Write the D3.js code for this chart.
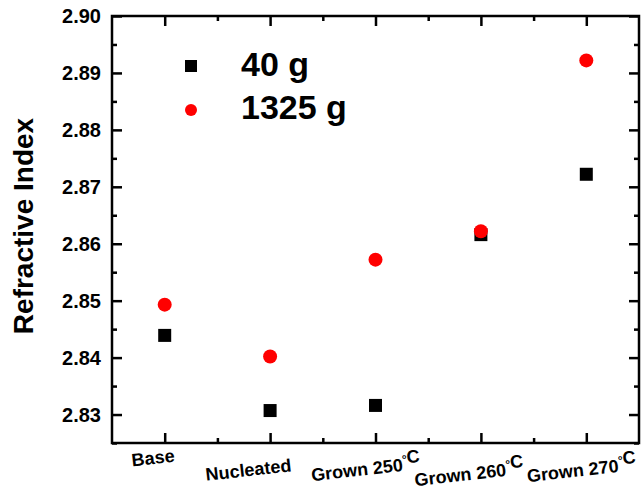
<!DOCTYPE html>
<html>
<head>
  <meta charset="utf-8">
  <style>
    body { margin: 0; background: #fff; }
    text { font-family: "Liberation Sans", Arial, sans-serif; font-weight: bold; }
    .frame { fill: none; stroke: #000; stroke-width: 2.5px; }
    .ax .tick line { stroke: #000; stroke-width: 2.5px; }
    .ax .domain { display: none; }
  </style>
</head>
<body>
  <svg width="641" height="491"></svg>
  <script src="https://d3js.org/d3.v7.min.js"></script>
  <script>
    const categories = ["Base", "Nucleated", "Grown 250", "Grown 260", "Grown 270"];
    const series40 = [2.8439, 2.8307, 2.8316, 2.8616, 2.8722];
    const series1325 = [2.8493, 2.8402, 2.8572, 2.8622, 2.8922];
    const yTicks = [2.83, 2.84, 2.85, 2.86, 2.87, 2.88, 2.89, 2.90];

    const svg = d3.select("svg");
    const mLeft = 112, mRight = 639, mTop = 16, mBottom = 443;

    const x = d3.scaleLinear().domain([-0.5, 4.5]).range([mLeft, mRight]);
    const y = d3.scaleLinear().domain([2.825, 2.90]).range([mBottom, mTop]);

    const xMajor = d3.range(categories.length);
    const xMinor = [0.5, 1.5, 2.5, 3.5];
    const yMinor = [2.825, 2.835, 2.845, 2.855, 2.865, 2.875, 2.885, 2.895];

    // inward ticks on all four sides
    function addAxis(axis, tx, ty) {
      svg.append("g").attr("class", "ax").attr("transform", `translate(${tx},${ty})`)
        .call(axis.tickFormat(""));
    }
    addAxis(d3.axisBottom(x).tickValues(xMajor).tickSize(-10), 0, mBottom);
    addAxis(d3.axisBottom(x).tickValues(xMinor).tickSize(-5), 0, mBottom);
    addAxis(d3.axisTop(x).tickValues(xMajor).tickSize(-10), 0, mTop);
    addAxis(d3.axisTop(x).tickValues(xMinor).tickSize(-5), 0, mTop);
    addAxis(d3.axisLeft(y).tickValues(yTicks).tickSize(-10), mLeft, 0);
    addAxis(d3.axisLeft(y).tickValues(yMinor).tickSize(-5), mLeft, 0);
    addAxis(d3.axisRight(y).tickValues(yTicks).tickSize(-10), mRight, 0);
    addAxis(d3.axisRight(y).tickValues(yMinor).tickSize(-5), mRight, 0);

    svg.append("rect").attr("class", "frame")
      .attr("x", mLeft).attr("y", mTop).attr("width", mRight - mLeft).attr("height", mBottom - mTop);

    // y tick labels
    svg.append("g").selectAll("text").data(yTicks).join("text")
      .attr("x", mLeft - 11).attr("y", d => y(d) + 7)
      .attr("text-anchor", "end").attr("font-size", 20)
      .text(d => d.toFixed(2));

    // y axis title
    svg.append("text")
      .attr("transform", `translate(33,226) rotate(-90)`)
      .attr("text-anchor", "middle").attr("font-size", 28)
      .text("Refractive Index");

    // x tick labels, slightly tilted (hand-placed look of the original)
    const labelDx = [-11, -21, -9, -11, -4];
    const labelDy = [21, 33, 32, 37, 33];
    const xl = svg.append("g").selectAll("text").data(categories).join("text")
      .attr("transform", (d, i) => `translate(${x(i) + labelDx[i]},${mBottom + labelDy[i]}) rotate(-6.5)`)
      .attr("text-anchor", "middle").attr("font-size", 18);
    xl.append("tspan").text(d => d);
    xl.filter(d => d.startsWith("Grown")).append("tspan")
      .attr("dy", -7).attr("font-size", 12).text("°");
    xl.filter(d => d.startsWith("Grown")).append("tspan")
      .attr("dy", 0).attr("font-size", 18).text("C");

    // points
    const sq = 13;
    svg.append("g").selectAll("rect").data(series40).join("rect")
      .attr("x", (d, i) => x(i) - sq / 2).attr("y", d => y(d) - sq / 2)
      .attr("width", sq).attr("height", sq).attr("fill", "#000");
    svg.append("g").selectAll("circle").data(series1325).join("circle")
      .attr("cx", (d, i) => x(i)).attr("cy", d => y(d))
      .attr("r", 7).attr("fill", "#ff0000");

    // legend
    const leg = svg.append("g");
    leg.append("rect").attr("x", 185).attr("y", 60).attr("width", 12).attr("height", 12).attr("fill", "#000");
    leg.append("text").attr("x", 241).attr("y", 76).attr("font-size", 34).text("40 g");
    leg.append("circle").attr("cx", 191).attr("cy", 110).attr("r", 6).attr("fill", "#ff0000");
    leg.append("text").attr("x", 241).attr("y", 119).attr("font-size", 34).text("1325 g");
  </script>
</body>
</html>
